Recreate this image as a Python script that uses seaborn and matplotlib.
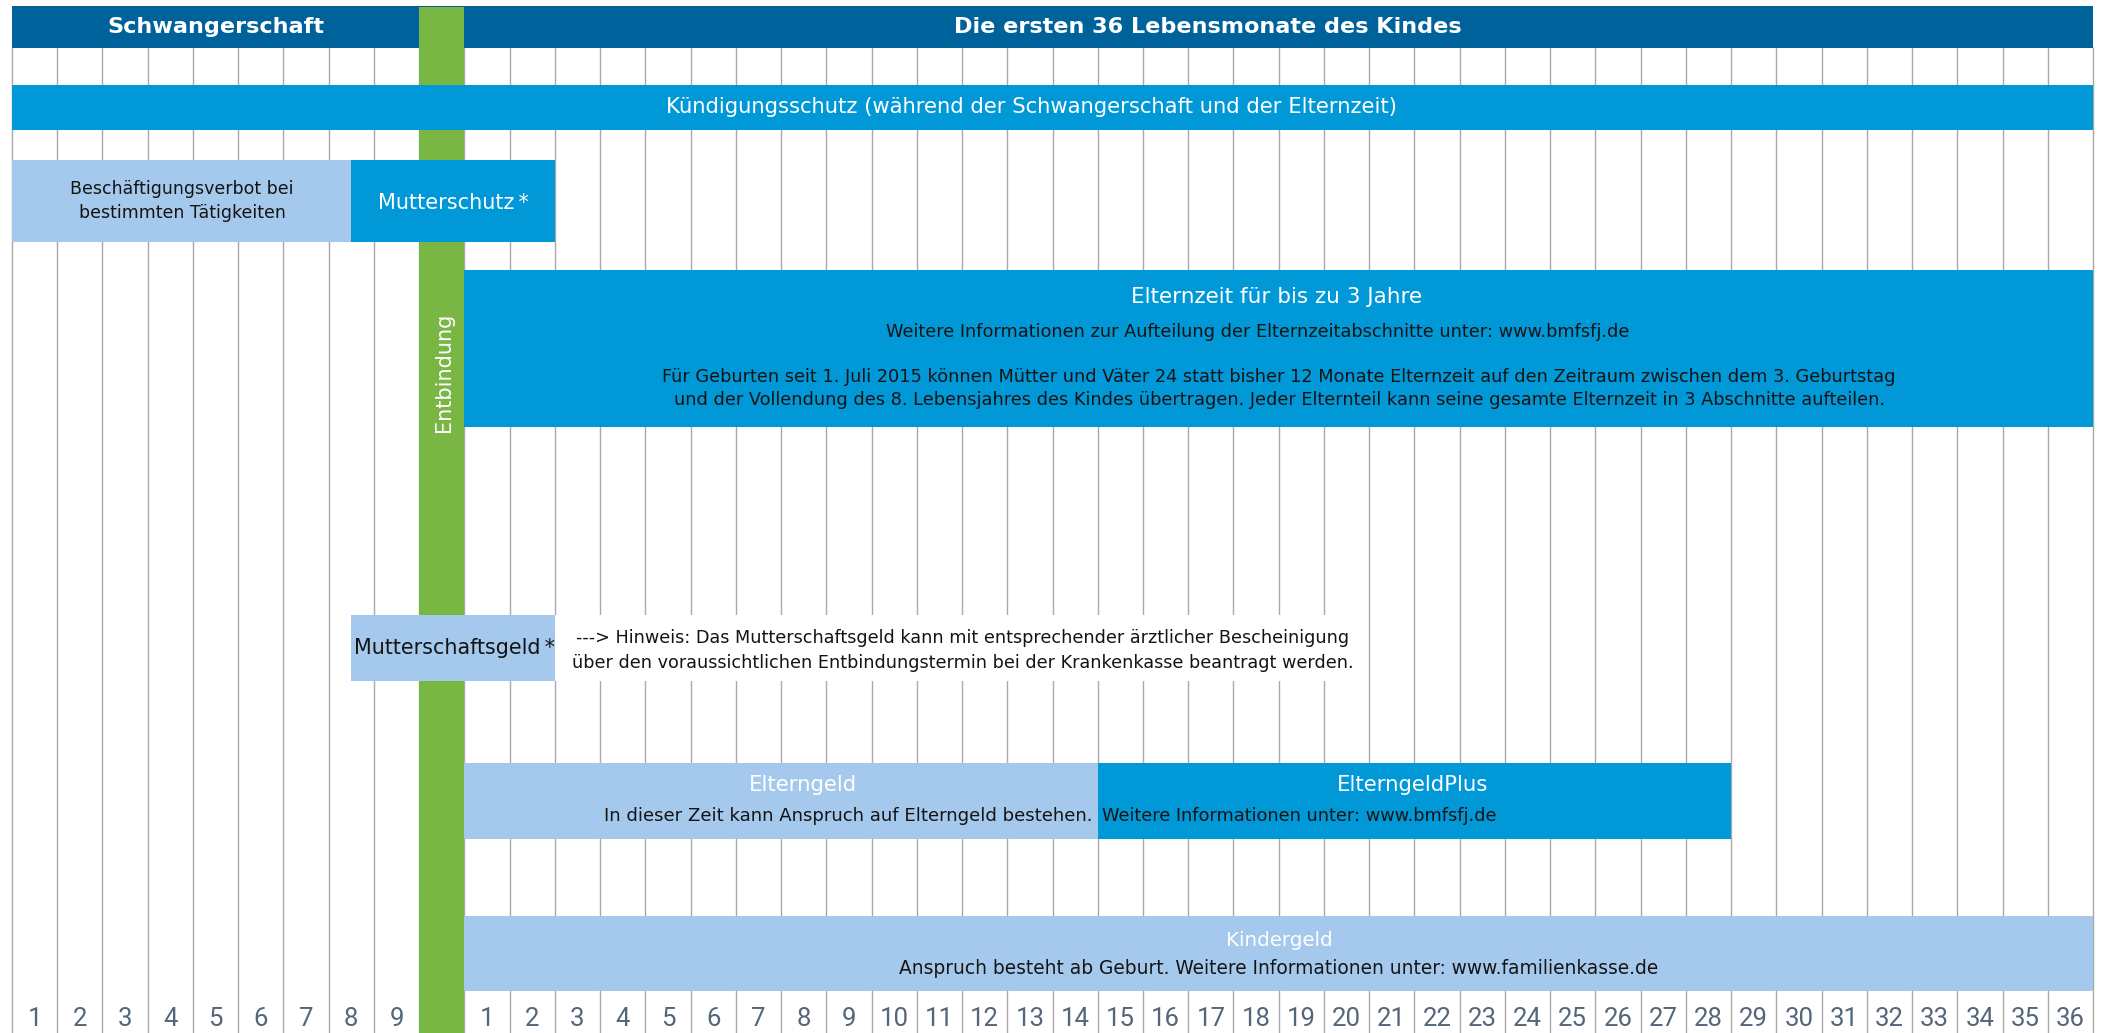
import matplotlib
matplotlib.use("Agg")
import matplotlib.pyplot as plt
import seaborn as sns
import pandas as pd

# ---------------- data ----------------
# timeline columns: 0-9 = pregnancy months 1-9, 9-10 = birth, 10-46 = child months 1-36
phases = ["Kündigungsschutz", "Beschäftigungsverbot", "Mutterschutz", "Elternzeit",
          "Mutterschaftsgeld", "Elterngeld", "ElterngeldPlus", "Kindergeld"]
phase_start = [0, 0, 7.5, 10, 7.5, 10, 24, 10]
phase_end = [46, 7.5, 12, 46, 12, 24, 38, 46]

pregnancy_labels = ["1", "2", "3", "4", "5", "6", "7", "8", "9"]
child_labels = ["1", "2", "3", "4", "5", "6", "7", "8", "9", "10", "11", "12",
                "13", "14", "15", "16", "17", "18", "19", "20", "21", "22", "23", "24",
                "25", "26", "27", "28", "29", "30", "31", "32", "33", "34", "35", "36"]

header_left = "Schwangerschaft"
header_right = "Die ersten 36 Lebensmonate des Kindes"
birth_label = "Entbindung"

# ---------------- layout / style ----------------
W, H = 2105, 1033
X0, X1 = 12, 2093
NCOL = 46
CW = (X1 - X0) / NCOL

DARK = "#00629b"
MID = "#0098d7"
LIGHT = "#a5c9ec"
GREEN = "#7ab643"
GRID = "#a8a8a8"
TXT = "#141414"
NUM = "#55667a"

# row pixel spans (top, bottom) and colours per phase
row_top = [85, 160, 160, 270, 615, 763, 763, 916]
row_bot = [130, 242, 242, 427, 681, 839, 839, 991]
row_col = [MID, LIGHT, MID, MID, LIGHT, LIGHT, MID, LIGHT]
row_z = [5, 2, 5, 2, 5, 2, 2, 2]

sns.set_theme(style="white")
plt.rcParams["font.family"] = ["DejaVu Sans"]

fig = plt.figure(figsize=(W / 100, H / 100), dpi=100)
fig.patch.set_facecolor("white")
ax = fig.add_axes([X0 / W, 0, (X1 - X0) / W, 1])
ax.set_xlim(0, NCOL)
ax.set_ylim(H, 0)
ax.axis("off")
renderer = fig.canvas.get_renderer()


def px(xp):
    return (xp - X0) / CW


# grid lines
for c in range(NCOL + 1):
    ax.plot([c, c], [47, H], color=GRID, lw=1.0, zorder=1, clip_on=False,
            solid_capstyle="butt")

# header
ax.barh(27, NCOL, left=0, height=42, color=DARK, zorder=2, align="center", linewidth=0)

# phase bars
df = pd.DataFrame({"phase": phases, "start": phase_start, "end": phase_end,
                   "top": row_top, "bot": row_bot, "color": row_col, "z": row_z})
for _, r in df.iterrows():
    ax.barh((r.top + r.bot) / 2, r.end - r.start, left=r.start, height=r.bot - r.top,
            color=r.color, zorder=r.z, linewidth=0)

# white note box
ax.barh(648, px(1362) - 12, left=12, height=66, color="white", zorder=2, linewidth=0)

# birth column
ax.barh((7 + H) / 2, 1, left=9, height=H - 7, color=GREEN, zorder=3, linewidth=0)


def fit(xp, y, s, width, color=TXT, ha="center", weight="normal", rot=0, z=6, size=None):
    t = ax.text(px(xp), y, s, fontsize=10, color=color, ha=ha, va="center",
                fontweight=weight, rotation=rot, zorder=z)
    if size is None:
        bb = t.get_window_extent(renderer)
        ext = bb.height if rot else bb.width
        size = 10 * width / ext
    t.set_fontsize(size)
    return size


# header texts
fit(216, 27, header_left, 218, color="white", weight="bold")
fit(1208, 27, header_right, 510, color="white", weight="bold")

# Kündigungsschutz
fit(1032, 107, "Kündigungsschutz (während der Schwangerschaft und der Elternzeit)", 735, color="white")

# Beschäftigungsverbot
s = fit(182, 189, "Beschäftigungsverbot bei", 223)
fit(182, 213, "bestimmten Tätigkeiten", 0, size=s)

# Mutterschutz
fit(453, 203, "Mutterschutz\u2009*", 152, color="white")

# Entbindung
fit(444, 372, birth_label, 120, color="white", rot=90)

# Elternzeit
fit(1277, 297, "Elternzeit für bis zu 3 Jahre", 291, color="white")
fit(1258, 332, "Weitere Informationen zur Aufteilung der Elternzeitabschnitte unter: www.bmfsfj.de", 741)
s = fit(1279, 377, "Für Geburten seit 1. Juli 2015 können Mütter und Väter 24 statt bisher 12 Monate "
        "Elternzeit auf den Zeitraum zwischen dem 3. Geburtstag", 1232)
fit(1279, 400, "und der Vollendung des 8. Lebensjahres des Kindes übertragen. Jeder Elternteil "
    "kann seine gesamte Elternzeit in 3 Abschnitte aufteilen.", 0, size=s)

# Mutterschaftsgeld
fit(455, 648, "Mutterschaftsgeld\u2009*", 201)
s = fit(963, 638, "---> Hinweis: Das Mutterschaftsgeld kann mit entsprechender ärztlicher Bescheinigung", 767)
fit(963, 663, "über den voraussichtlichen Entbindungstermin bei der Krankenkasse beantragt werden.", 0, size=s)

# Elterngeld / ElterngeldPlus
fit(803, 785, "Elterngeld", 109, color="white")
fit(1092, 816, "In dieser Zeit kann Anspruch auf Elterngeld bestehen.", 490, ha="right")
fit(1413, 785, "ElterngeldPlus", 152, color="white")
fit(1102, 816, "Weitere Informationen unter: www.bmfsfj.de", 395, ha="left")

# Kindergeld
fit(1279, 940, "Kindergeld", 107, color="white")
fit(1279, 968, "Anspruch besteht ab Geburt. Weitere Informationen unter: www.familienkasse.de", 760)

# month numbers
for i, lab in enumerate(pregnancy_labels):
    ax.text(i + 0.5, 1019, lab, ha="center", va="center", fontsize=18.5, color=NUM,
            family="Roboto", zorder=6)
for i, lab in enumerate(child_labels):
    ax.text(10 + i + 0.5, 1019, lab, ha="center", va="center", fontsize=18.5, color=NUM,
            family="Roboto", zorder=6)

fig.savefig("out.png", dpi=100, facecolor="white")
